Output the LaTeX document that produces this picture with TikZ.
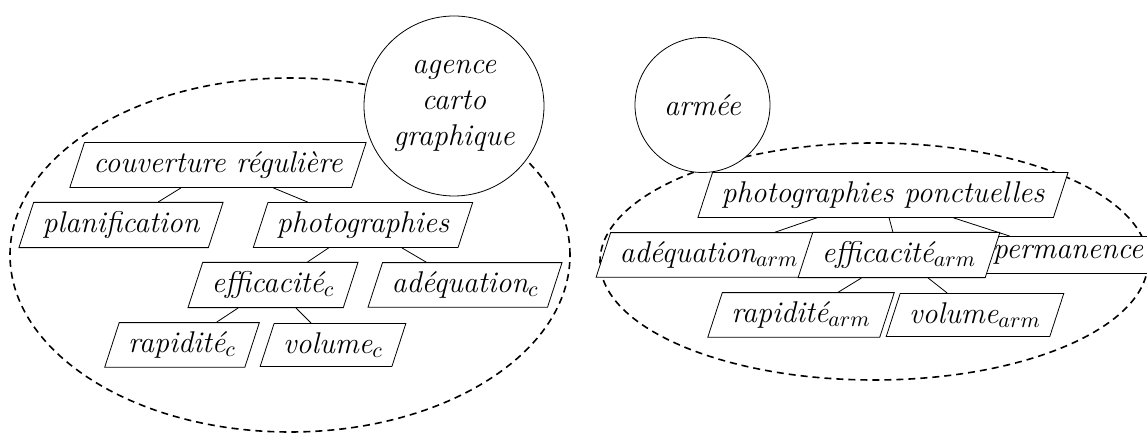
\documentclass[tikz,border=0pt]{standalone}
\usetikzlibrary{shapes.geometric}

\begin{document}
\begin{tikzpicture}[
    x=0.5pt, y=0.5pt,
    node distance=30pt,
    concept/.style={trapezium, trapezium left angle=72, trapezium right angle=108, draw, fill=white, inner xsep=4.5pt, inner ysep=4.5pt, font=\fontsize{15}{18}\selectfont\itshape},
    actor/.style={circle, draw, fill=white, align=center, inner sep=1pt, font=\fontsize{15}{18}\selectfont\itshape},
    group/.style={dash pattern=on 3.5pt off 2.5pt, line width=0.8pt},
    link/.style={thin}
]
    \useasboundingbox (0,0) rectangle (1147,433);

    % Groups
    \draw [group] (290,178) ellipse (280 and 177);
    \draw [group] (874,171.5) ellipse (274 and 118.5);

    % Actors
    \node [actor, minimum size=90pt] (agence) at (454,327) {agence\\carto\\graphique};
    \node [actor, minimum size=67.5pt] (armee) at (702.5,328) {armée};

    % Agency tree
    \node [concept] (couv) at (218,268) {couverture régulière};
    \node [concept, below of=couv, xshift=-48.5pt] (plan) {planification};
    \node [concept, below of=couv, xshift=72.5pt] (photo) {photographies};
    \node [concept, below of=photo, xshift=-45pt] (effc) {efficacité$_c$};
    \node [concept, below of=photo, xshift=51pt] (adeqc) {adéquation$_c$};
    \node [concept, below of=effc, xshift=-45.5pt] (rapc) {rapidité$_c$};
    \node [concept, below of=effc, xshift=30pt] (volc) {volume$_c$};

    % Army tree
    \node [concept] (ponct) at (883,238) {photographies ponctuelles};
    \node [concept, below of=ponct, xshift=-87pt] (adeqa) {adéquation$_{arm}$};
    \node [concept, below of=ponct, xshift=92.5pt] (perm) {permanence};
    \node [concept, below of=ponct, xshift=8pt] (effa) {efficacité$_{arm}$};
    \node [concept, below of=effa, xshift=-49pt] (rapa) {rapidité$_{arm}$};
    \node [concept, below of=effa, xshift=38pt] (vola) {volume$_{arm}$};

    % Links
    \draw [link] (couv) -- (plan);
    \draw [link] (couv) -- (photo);
    \draw [link] (photo) -- (effc);
    \draw [link] (photo) -- (adeqc);
    \draw [link] (effc) -- (rapc);
    \draw [link] (effc) -- (volc);
    \draw [link] (ponct) -- (adeqa);
    \draw [link] (ponct) -- (effa);
    \draw [link] (ponct) -- (perm);
    \draw [link] (effa) -- (rapa);
    \draw [link] (effa) -- (vola);
\end{tikzpicture}
\end{document}
